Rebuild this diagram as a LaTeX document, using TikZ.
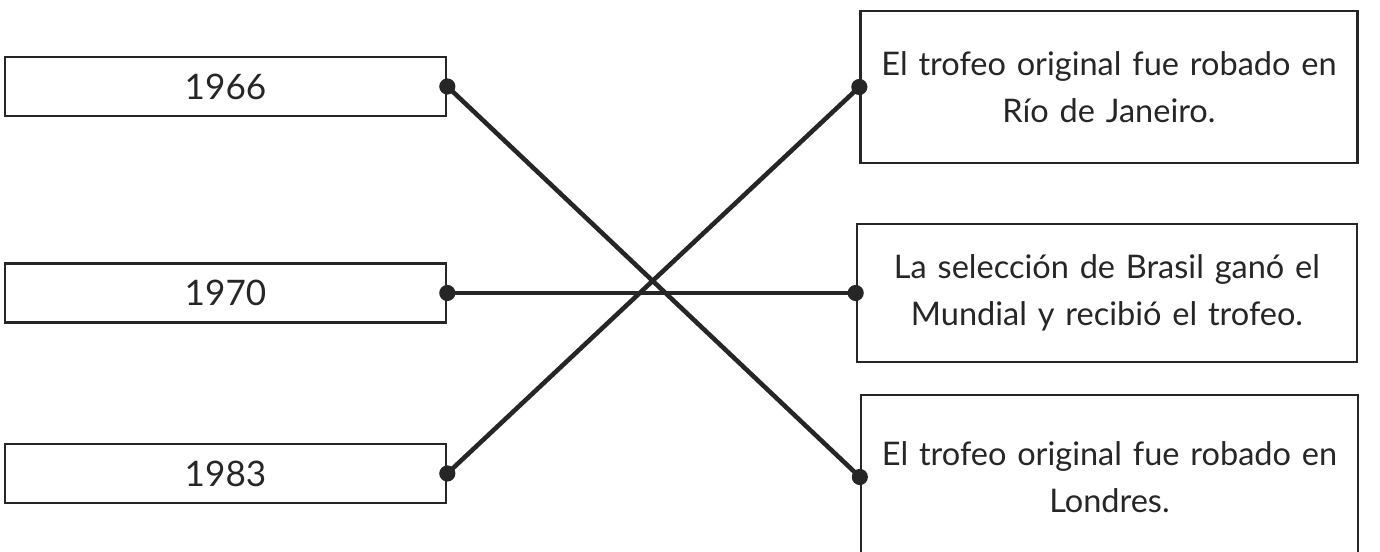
\documentclass[tikz,border=0pt]{standalone}
\usepackage{fontspec}
\setmainfont{Lato}
\usetikzlibrary{positioning}
\definecolor{ink}{RGB}{38,38,38}

\begin{document}
\begin{tikzpicture}[
	year/.style={draw=ink, line width=1.5pt, minimum width=8.82cm, minimum height=1.18cm, text=ink, font=\fontsize{20}{27}\selectfont},
	fact/.style={draw=ink, line width=1.5pt, text width=9.7cm, align=center, text=ink, font=\fontsize{18.5}{27}\selectfont},
	link/.style={draw=ink, line width=2.6pt},
	dot/.style={fill=ink}
]
				\useasboundingbox (0,0) rectangle (27.6,11.04);

				\node[year] (Y66) at (4.51,9.31) {1966};
				\node[year] (Y70) at (4.51,5.18) {1970};
				\node[year] (Y83) at (4.51,1.57) {1983};

				\node[fact, minimum width=9.92cm, minimum height=3.04cm] (Rio) at (22.18,9.30) {El trofeo original fue robado en\\ Río de Janeiro.};
				\node[fact, minimum width=10.0cm, minimum height=2.76cm] (Brasil) at (22.14,5.18) {La selección de Brasil ganó el\\ Mundial y recibió el trofeo.};
				\node[fact, minimum width=9.9cm, minimum height=3.28cm] (Londres) at (22.19,1.50) {El trofeo original fue robado en\\ Londres.};

				\path [link] (Y66.east) edge (Londres.west);
				\path [link] (Y70.east) edge (Brasil.west);
				\path [link] (Y83.east) edge (Rio.west);

				\foreach \n in {Y66.east,Y70.east,Y83.east,Rio.west,Brasil.west,Londres.west}
					\fill[dot] (\n) circle (4.6pt);
			\end{tikzpicture}
\end{document}
